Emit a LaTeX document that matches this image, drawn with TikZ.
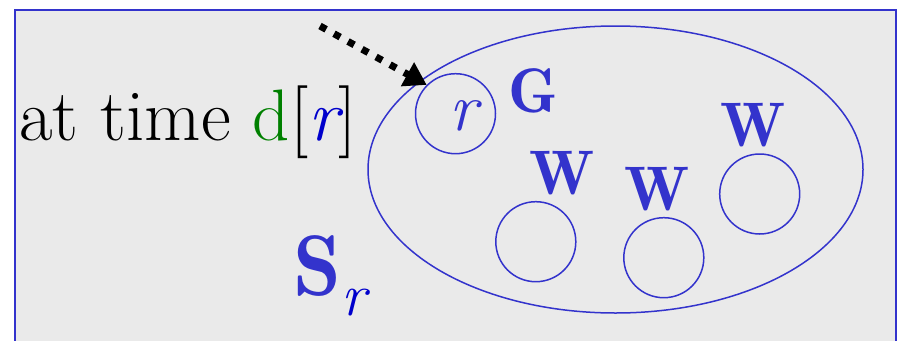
\documentclass[tikz,border=0pt]{standalone}
\usepackage{fontspec}
\newfontfamily\demiface{Latin Modern Roman Demi}
\usetikzlibrary{shapes.geometric, arrows.meta}
\definecolor{setblue}{RGB}{51, 51, 204}
\definecolor{rootblue}{RGB}{0, 0, 204}
\definecolor{timegreen}{RGB}{0, 128, 0}
\definecolor{panelgrey}{RGB}{234, 234, 234}

\begin{document}
\begin{tikzpicture}[x=1pt, y=-1pt,
  member/.style={draw=setblue, line width=1.5pt, circle, minimum size=80pt, inner sep=0pt},
  tag/.style={text=setblue, font=\demiface\fontsize{63}{70}\selectfont, anchor=base, inner sep=0pt}
]
  \useasboundingbox (0,0) rectangle (899,340);
  \clip (0,0) rectangle (899,340);
  \draw[setblue, line width=2pt, fill=panelgrey] (15,10) rectangle (896,380);

  % the set S_r and its members
  \node[draw=setblue, line width=1.5pt, ellipse, minimum width=495pt, minimum height=287pt] (group) at (615.5,169.5) {};
  \node[member] (root) at (455.5,113.7) {};
  \node[member] (wa) at (535.8,241.7) {};
  \node[member] (wb) at (663.8,257.7) {};
  \node[member] (wc) at (759.7,194) {};

  \node[tag, font=\itshape\fontsize{68}{70}\selectfont] (rlbl) at (464,130) {r};
  \node[tag] (glbl) at (533.5,112) {G};
  \node[tag] (walbl) at (562,194) {W};
  \node[tag] (wblbl) at (657.5,210) {W};
  \node[tag] (wclbl) at (753.5,146) {W};

  \node[anchor=base west, inner sep=0pt, font=\fontsize{73}{80}\selectfont] (time) at (19,140)
    {at time \textcolor{timegreen}{d}[\textcolor{rootblue}{\itshape r}]};
  \node[anchor=base west, inner sep=0pt, text=setblue] (setname) at (293,295)
    {\demiface\fontsize{86}{90}\selectfont S\raisebox{-20pt}{\normalfont\fontsize{60}{60}\selectfont\itshape\color{rootblue}r}};

  \coordinate (hint) at (320,26);
  \draw[line width=7pt, dash pattern=on 7pt off 9pt, -{Triangle[length=22pt, width=26pt]}] (hint) -- (root.135);
\end{tikzpicture}
\end{document}
